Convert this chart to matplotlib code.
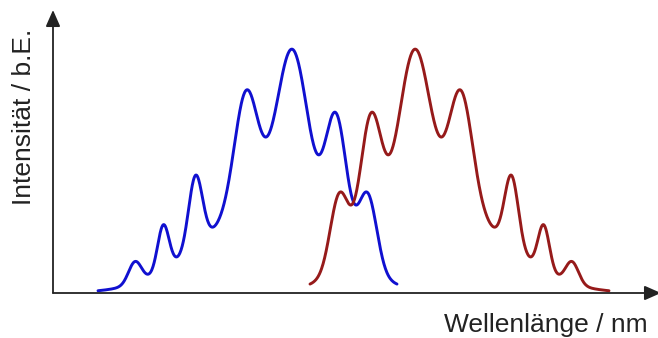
import numpy as np
import matplotlib
matplotlib.use("Agg")
import matplotlib.pyplot as plt

# Absorption band (blue): vibronic components (position, height, width) plus a broad base
abs_center = [82.0, 110.3, 142.5, 193.2, 239.7, 283.3, 314.7, 211.3]
abs_height = [22.0, 45.8, 71.6, 118.0, 166.2, 132.0, 77.3, 86.0]
abs_width = [6.51, 5.73, 6.92, 11.74, 16.03, 10.83, 9.16, 61.63]
abs_range = [45.0, 344.0]

# Emission band (dark red): mirror image of the absorption band
em_center = [519.0, 490.7, 458.5, 407.8, 361.3, 317.7, 286.3, 389.7]
em_height = [22.0, 45.8, 71.6, 118.0, 166.2, 132.0, 77.3, 86.0]
em_width = [6.51, 5.73, 6.92, 11.74, 16.03, 10.83, 9.16, 61.63]
em_range = [257.0, 556.0]

x_label = "Wellenlänge / nm"
y_label = "Intensität / b.E."


def band(x, centers, heights, widths):
    c = np.asarray(centers)
    a = np.asarray(heights)
    s = np.asarray(widths)
    return (a * np.exp(-(x[:, None] - c) ** 2 / (2 * s ** 2))).sum(axis=1)


plt.rcParams['font.family'] = ['Liberation Sans', 'DejaVu Sans']
fig = plt.figure(figsize=(6.58, 3.38), dpi=100)
ax = fig.add_axes([0, 0, 1, 1])
ax.set_xlim(-53, 605)
ax.set_ylim(-45, 293)
ax.axis("off")

xa = np.linspace(abs_range[0], abs_range[1], 800)
ax.plot(xa, band(xa, abs_center, abs_height, abs_width), color="#1010d0", lw=2.1,
        solid_capstyle="round")
xe = np.linspace(em_range[0], em_range[1], 800)
ax.plot(xe, band(xe, em_center, em_height, em_width), color="#961a1a", lw=2.1,
        solid_capstyle="round")

arrow = dict(arrowstyle='-|>,head_length=0.5,head_width=0.22', mutation_scale=20,
             color='#222222', lw=1.3, shrinkA=0, shrinkB=0)
ax.annotate('', xy=(0, 283), xytext=(0, 0), arrowprops=arrow, annotation_clip=False)
ax.annotate('', xy=(608, 0), xytext=(0, 0), arrowprops=arrow, annotation_clip=False)

fig.text(24 / 658, 1 - 116.5 / 338, y_label, rotation=90, ha='center', va='center',
         fontsize=19, color='#222222')
fig.text(648 / 658, 1 - 332 / 338, x_label, ha='right', va='baseline',
         fontsize=19, color='#222222')

fig.savefig("out.png", dpi=100)
